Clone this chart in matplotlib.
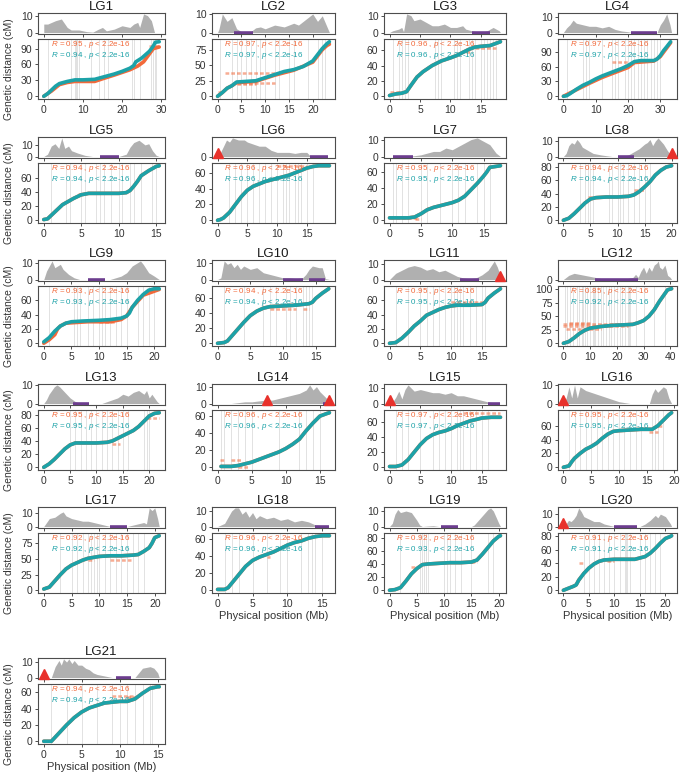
import numpy as np
import matplotlib
matplotlib.use("Agg")
import matplotlib.pyplot as plt
import matplotlib.transforms as mtransforms

plt.rcParams['font.family'] = ['Liberation Sans', 'DejaVu Sans']
plt.rcParams['mathtext.fontset'] = 'custom'
plt.rcParams['mathtext.rm'] = 'Liberation Sans'
plt.rcParams['mathtext.it'] = 'Liberation Sans:italic'

# ---------------- data ----------------
lg_names = ["LG%d" % i for i in range(1, 22)]
lg_lengths = [29.5, 23.5, 18.2, 33.5, 15.4, 18.8, 17.7, 20.0, 20.9, 17.1, 18.0,
              40.5, 21.9, 16.4, 18.0, 19.5, 20.8, 16.0, 20.3, 21.2, 15.2]
x_steps = [10, 5, 5, 10, 5, 5, 5, 5, 5, 5, 5, 10, 5, 5, 5, 5, 5, 5, 5, 5, 5]
y_steps = [30, 25, 20, 30, 20, 20, 20, 20, 20, 20, 20, 25, 20, 20, 20, 20, 25, 20, 20, 20, 20]

r_orange = [0.95, 0.97, 0.96, 0.97, 0.94, 0.96, 0.95, 0.94, 0.93, 0.94, 0.95,
            0.85, 0.95, 0.96, 0.97, 0.95, 0.92, 0.96, 0.92, 0.91, 0.94]
r_teal = [0.94, 0.97, 0.96, 0.97, 0.94, 0.96, 0.95, 0.94, 0.93, 0.94, 0.95,
          0.92, 0.95, 0.96, 0.97, 0.95, 0.92, 0.96, 0.93, 0.91, 0.94]

# genetic vs physical position (teal map)
teal_curves = [
    [(0, 0), (1, 5), (2, 12), (3, 19), (4, 24), (6, 28), (8, 31), (10, 31), (13, 32), (15, 36), (18, 42), (20, 47), (22, 53), (23, 58), (23.5, 65), (25, 72), (27, 85), (28, 95), (28.5, 102), (29.5, 103)],
    [(0, 0), (1, 6), (2, 13), (3, 17), (4, 23), (6, 24), (8, 25), (10, 30), (12, 35), (14, 40), (16, 43), (18, 48), (20, 57), (21, 67), (22, 77), (23, 85), (23.5, 88)],
    [(0, 1), (1, 3), (2, 4), (2.8, 6), (3.5, 14), (4.5, 25), (5.5, 32), (7, 40), (8.5, 46), (10, 50), (11, 53), (12, 57), (13, 61), (14, 64), (15, 65), (16.5, 66), (17.5, 69), (18.2, 71)],
    [(0, 0), (1, 1), (2, 5), (4, 14), (6, 22), (8, 28), (10, 35), (12, 41), (14, 46), (16, 51), (18, 56), (20, 62), (22, 70), (24, 72), (26, 72), (28, 72), (29, 75), (30, 82), (31, 92), (32, 100), (33.2, 110)],
    [(0, 1), (0.5, 2), (1, 7), (1.5, 12), (2, 17), (2.5, 22), (3, 25), (3.5, 28), (4, 31), (5, 36), (6, 38), (8, 38), (10, 38), (11, 39), (11.5, 42), (12, 48), (12.5, 55), (13, 63), (14, 70), (15, 76), (15.4, 77)],
    [(0, 0), (0.5, 1), (1, 3), (2, 10), (3, 20), (4, 30), (5, 38), (6, 43), (7, 46), (8, 49), (9, 51), (10, 53), (11, 55), (12, 57), (13, 60), (14, 63), (15, 66), (16, 68), (17, 69), (18.8, 69)],
    [(0, 3), (1, 3), (2, 3), (3, 3), (4, 4), (5, 8), (6, 13), (7, 16), (8, 18), (9, 20), (10, 22), (11, 25), (12, 30), (13, 38), (14, 46), (15, 55), (15.5, 60), (16, 66), (17.7, 68)],
    [(0, 0), (1, 3), (2, 10), (3, 18), (4, 26), (4.5, 29), (5, 32), (6, 34), (8, 35), (10, 35), (12, 36), (13, 38), (14, 43), (15, 50), (16, 58), (17, 68), (18, 75), (19, 80), (20, 82)],
    [(0, 2), (1, 8), (2, 17), (3, 24), (4, 28), (5, 30), (7, 31), (10, 32), (12, 33), (14, 35), (15, 38), (15.5, 42), (16, 50), (17, 60), (18, 68), (19, 74), (20, 76), (20.9, 76)],
    [(0, 0), (1, 1), (1.5, 3), (2, 8), (3, 18), (4, 28), (5, 37), (6, 43), (7, 47), (8, 49), (10, 50), (12, 51), (13, 52), (14, 53), (14.5, 55), (15, 60), (16, 67), (17, 73)],
    [(0, 0), (1, 1), (2, 7), (3, 15), (4, 24), (5, 31), (6, 39), (7, 43), (8, 47), (9, 50), (10, 52), (11, 53), (13, 53), (15, 54), (15.5, 57), (16, 63), (17, 70), (18, 76)],
    [(0, 0), (2, 3), (4, 10), (6, 18), (8, 24), (10, 28), (14, 31), (18, 33), (22, 34), (26, 35), (28, 38), (30, 42), (32, 50), (34, 62), (36, 78), (38, 92), (39, 99), (40.5, 101)],
    [(0, 0), (1, 5), (2, 12), (3, 20), (4, 28), (5, 34), (6, 37), (8, 37), (10, 37), (12, 38), (13, 40), (14, 44), (15, 48), (16, 52), (17, 56), (18, 62), (19, 70), (20, 78), (21, 82), (21.9, 83)],
    [(0.5, 1), (1, 1), (2, 1), (3, 2), (4, 4), (5, 6), (6, 9), (7, 12), (8, 15), (9, 18), (10, 22), (11, 27), (12, 33), (13, 43), (14, 52), (15, 60), (16, 63), (16.4, 64)],
    [(0, 1), (1, 1), (2, 3), (3, 10), (4, 20), (5, 30), (6, 38), (7, 43), (8, 46), (9, 48), (10, 51), (11, 55), (12, 58), (13, 61), (14, 63), (15, 65), (16.5, 66), (18, 66)],
    [(0, 0), (1, 2), (1.5, 8), (2, 13), (3, 20), (4, 26), (5, 30), (6, 35), (7, 42), (8, 48), (9, 52), (10, 53), (12, 54), (14, 55), (16, 55), (17, 60), (18, 68), (19, 76), (19.5, 79)],
    [(0, 2), (1, 5), (2, 15), (3, 25), (4, 34), (5, 40), (6, 44), (7, 48), (8, 51), (10, 54), (12, 55), (14, 55), (16, 56), (17, 57), (18, 62), (19, 68), (19.5, 75), (20, 84), (20.8, 87)],
    [(0, 1), (1, 1), (1.5, 3), (2, 8), (3, 18), (4, 28), (5, 35), (6, 39), (7, 42), (8, 45), (9, 49), (10, 53), (11, 56), (12, 58), (13, 61), (14, 63), (15, 64), (16, 64)],
    [(0, 0), (1, 1), (2, 4), (3, 14), (4, 25), (5, 33), (6, 39), (7, 40), (9, 41), (11, 42), (13, 42), (15, 43), (16, 46), (17, 55), (18, 65), (19, 75), (20, 82), (20.3, 83)],
    [(0, 0), (1, 3), (2, 6), (2.5, 8), (3, 15), (4, 25), (5, 33), (6, 39), (7, 43), (8, 45), (10, 46), (12, 46), (14, 46), (16, 50), (17, 55), (18, 62), (19, 70), (20, 77), (21, 80), (21.2, 81)],
    [(0, 0), (0.5, 0), (1, 0), (1.3, 3), (2, 10), (3, 20), (4, 29), (5, 36), (6, 41), (7, 44), (8, 47), (9, 48), (10, 49), (11, 49), (12, 52), (13, 59), (14, 65), (15, 67), (15.2, 67)],
]

# orange map where it departs from the teal one (None = lies under teal)
orange_curves = [
    [(0, 0), (2, 10), (4, 22), (6, 26), (8, 28), (13, 28), (15, 33), (18, 40), (20, 45), (22, 50), (24, 57), (25.5, 65), (27, 80), (28, 90), (29.5, 93)],
    [(0, 0), (1, 6), (2, 13), (3, 17), (4, 22), (8, 24), (12, 34), (16, 42), (20, 55), (22, 75), (23, 82), (23.5, 84)],
    None,
    [(0, 0), (4, 13), (8, 26), (12, 38), (16, 48), (20, 58), (22, 68), (28, 71), (30, 80), (33.2, 108)],
    None, None, None, None,
    [(0, 0), (1, 5), (2, 12), (2.5, 20), (3, 24), (4, 28), (8, 30), (12, 30), (14, 33), (15, 38), (16, 50), (18, 67), (20.9, 75)],
    None, None, None, None, None, None, None, None, None, None, None, None,
]

# stray orange markers: (x start, x end, cM)
orange_extras = [
    [(27, 29.5, 95)],
    [(1.5, 12, 37), (4, 12, 22), (4, 8, 19), (0, 1, 7)],
    [(12.5, 13.5, 58), (14, 17.5, 63), (0, 2, 6)],
    [(15, 20, 70)],
    [(4.5, 5.2, 37), (3, 3.6, 27)],
    [(10, 15, 69)],
    [(0, 4.5, 3), (6, 6.3, 15), (4, 5, 1)],
    [(4.5, 5.5, 35), (13, 15, 45)],
    [(10, 13, 29)],
    [(8, 12, 46), (13, 14, 46)],
    [(10, 15, 58)],
    [(0, 25, 35), (0, 24, 32), (1, 14, 27), (2, 10, 38)],
    [(13, 14.5, 36), (19.5, 21.9, 75)],
    [(0.3, 1, 8), (2, 3.5, 8), (3, 4.5, 0)],
    [(12, 18, 72)],
    [(15.5, 17, 51), (17, 18, 60)],
    [(8, 9, 48), (12, 16, 48)],
    [(7, 7.5, 39)],
    [(4, 5, 35), (15, 16, 43)],
    [(3, 4, 40), (8.5, 10, 44)],
    [(9, 12, 56), (11, 12, 54)],
]

# recombination density profiles (Mb, value)
density_profiles = [
    [(0, 5), (1, 5), (3, 7), (4.5, 8), (6, 3), (7, 1.5), (9, 1.5), (11, 0.5), (12.5, 0.2), (14, 2), (15, 3), (16, 1), (18, 2), (20, 4), (22, 3), (23, 5), (24, 6), (24.5, 3), (25.5, 11), (26.5, 10), (27.5, 7), (28.3, 0), (29.5, 0)],
    [(0, 0), (0.3, 2), (1, 10), (2, 6), (3, 8), (4, 2), (5, 0.5), (7, 0.5), (8, 2.5), (9, 3), (10, 2), (12, 4), (14, 3), (16, 5), (17, 4), (19, 8), (20, 10), (21, 6), (22, 9), (23, 3), (23.5, 0)],
    [(0, 0), (0.5, 1), (1.5, 2), (2, 3), (2.3, 0.5), (2.8, 11), (3.5, 10), (4, 7), (5, 8), (6, 6), (7, 4), (8, 4), (9, 5), (10, 3), (11, 3), (12, 4), (12.5, 2), (13.5, 1), (15, 0), (16, 1), (17, 3), (18, 1), (18.2, 0)],
    [(0, 0), (1, 3), (2, 5), (3, 8), (4, 6), (6, 5), (8, 4), (10, 4), (12, 3), (14, 4), (16, 2), (18, 1), (20, 0.5), (21, 0), (29, 0), (30, 5), (31, 8), (32, 12), (33, 5), (33.5, 0)],
    [(0, 0), (0.5, 2), (1, 9), (1.5, 11), (2, 7), (2.4, 16), (2.8, 7), (3.3, 9), (3.7, 5), (4.5, 3), (5.5, 1), (6.5, 0), (10, 0), (11, 2), (11.5, 8), (12, 12), (12.7, 14), (13.5, 10), (14, 11), (14.5, 5), (15, 1), (15.4, 0)],
    [(0, 0), (0.5, 2), (1, 5), (1.5, 8), (2, 7), (2.5, 9), (3.5, 8), (4.5, 8), (5, 7), (6, 6), (7, 5), (8, 5), (9, 3), (10, 2), (11, 2), (12, 2), (13, 1.5), (14, 2), (15, 2), (15.5, 0.5), (16, 0), (18.8, 0)],
    [(0, 0), (1, 0), (3, 0), (4, 0.5), (5, 1), (6, 2), (7, 3), (8, 3), (9, 5), (10, 4), (11, 6), (12, 8), (13, 10), (14, 11), (15, 9), (16, 7), (17, 2), (17.7, 0)],
    [(0, 0), (0.5, 2), (1, 7), (1.5, 9), (2, 8), (2.5, 11), (3, 9), (3.5, 6), (4.5, 4), (5.5, 2), (7, 1), (8, 0.5), (9, 0), (11, 0), (12, 1), (13, 3), (14, 5), (15, 8), (15.5, 9), (16, 11), (16.5, 7), (17, 10), (17.5, 12), (18.5, 8), (19.2, 4), (20, 0)],
    [(0, 0), (0.5, 5), (1, 8), (1.5, 11), (2, 7), (3, 9), (3.5, 6), (4.5, 3), (5.5, 1), (6.5, 0), (12, 0), (13, 1), (14, 2), (15, 4), (16, 8), (17, 10), (17.5, 11), (18, 9), (19, 4), (20, 2), (20.9, 0)],
    [(0, 0), (0.5, 1), (1, 11), (1.5, 9), (2, 10), (2.5, 7), (3, 9), (3.5, 6), (4, 8), (5, 6), (6, 7), (7, 4), (8, 3), (9, 2), (10, 1), (11, 1), (12, 0.5), (13, 1), (13.5, 3), (14, 6), (14.5, 8), (15.5, 7), (16, 7), (16.5, 0.5), (17.1, 0)],
    [(0, 0), (1, 4), (2, 6), (3, 8), (4, 9), (5, 8), (6, 6), (7, 7), (8, 5), (9, 6), (10, 4), (11, 2), (12, 1), (13, 0.5), (14, 1), (15, 3), (16, 6), (17, 12), (17.5, 8), (18, 2)],
    [(0, 0), (2, 2), (4, 3), (6, 2.5), (8, 2), (10, 1.5), (12, 1), (14, 0.5), (16, 0.3), (20, 0.2), (24, 0.5), (26, 1), (27, 2.5), (28, 1), (29, 4), (30, 6), (31, 3), (32, 6), (33, 4), (34, 7), (35, 8), (35.5, 9), (36, 6), (37, 5), (38, 7), (39, 2), (40, 1), (40.5, 0)],
    [(0, 0), (0.5, 2), (1, 5), (2, 9), (2.5, 10), (3, 9), (4, 6), (5, 3), (6, 1), (7, 0), (9, 0), (11, 0), (12, 1), (13, 2), (14, 3), (15, 5), (16, 4), (17, 6), (18, 7), (19, 5), (19.5, 7), (20, 3), (20.5, 5), (21.5, 1), (21.9, 0)],
    [(0, 0), (2, 0), (3, 0.5), (4, 1), (5, 1), (6, 1.5), (7, 2), (8, 2), (9, 3), (10, 4), (11, 5), (12, 6), (12.5, 7), (13, 8), (13.5, 11), (14, 8), (14.5, 10), (15, 7), (15.5, 5), (16, 3), (16.4, 0)],
    [(0, 0), (0.5, 1), (1, 4), (1.5, 8), (2, 3), (2.5, 9), (3, 12), (3.5, 10), (4, 8), (5, 9), (6, 8), (7, 7), (8, 7), (9, 6), (10, 7), (11, 5), (12, 5), (13, 4), (14, 3), (15, 2), (16, 1), (17, 0.5), (18, 0)],
    [(0, 0), (0.5, 3), (1, 9), (1.5, 3), (2, 10), (2.5, 3), (3, 9), (3.5, 8), (4, 7), (5, 6), (6, 5), (7, 4), (8, 3), (9, 2), (10, 1), (11, 0.5), (12, 0), (15.5, 0), (16, 5), (16.5, 8), (17, 6), (18, 9), (18.5, 8), (19, 3), (19.5, 0)],
    [(0, 0), (0.5, 3), (1, 6), (2, 7), (3, 10), (3.5, 11), (4, 8), (5, 6), (6, 5), (7, 4), (8, 4), (9, 3), (10, 2), (11, 1), (12, 0), (15, 0), (16, 1), (17, 2), (18, 3), (18.5, 2), (19, 14), (19.5, 12), (20, 14), (20.5, 6), (20.8, 0)],
    [(0, 0), (0.5, 1), (1, 2), (1.5, 6), (2, 10), (2.5, 12), (3, 12), (3.5, 8), (4, 10), (4.5, 6), (5, 9), (5.5, 5), (6, 7), (7, 5), (8, 6), (9, 4), (10, 5), (11, 3), (12, 4), (13, 3), (14, 1), (15, 0.5), (16, 0)],
    [(0, 0), (0.5, 2), (1, 8), (1.5, 11), (2, 9), (3, 10), (4, 9), (5, 4), (5.5, 1), (6, 0), (7, 0.3), (8, 0.5), (9, 0), (15, 0), (15.5, 1), (16, 3), (17, 7), (18, 11), (18.5, 12), (19, 10), (19.5, 6), (20, 2), (20.3, 0)],
    [(0, 0), (0.5, 2), (1, 5), (1.5, 4), (2, 6), (2.5, 9), (3, 15), (3.5, 12), (4, 8), (5, 6), (6, 4), (7, 4), (8, 2), (9, 1), (10, 0), (15, 0), (16, 2), (17, 5), (18, 9), (18.5, 7), (19, 10), (19.5, 9), (20, 8), (21, 2), (21.2, 0)],
    [(0, 0), (0.5, 0), (1, 0), (1.5, 7), (2, 11), (2.3, 8), (2.6, 12), (3, 10), (3.3, 12), (3.7, 9), (4, 11), (4.5, 8), (5, 8), (5.5, 6), (6, 5), (6.5, 3), (7, 2), (8, 1), (9, 0), (12, 0), (12.5, 3), (13, 6), (14, 7), (14.5, 6), (15, 3), (15.2, 0)],
]

# centromere-like intervals (purple) and red triangles (Mb)
purple_bars = [[], [(3.5, 7.5)], [(13.5, 16.5)], [(21, 29)], [(7.5, 10)], [(15.5, 18.5)],
               [(0.5, 3.8)], [(10, 13)], [(8, 11)], [(10, 13), (14, 16.5)], [(11.5, 14.5)],
               [(12, 28)], [(5.5, 8.5)], [(15.5, 16.5)], [(16, 18)], [], [(12, 15)],
               [(14, 16)], [(9.5, 12.5)], [(10, 14.5)], [(9.5, 11.5)]]
triangles = [[], [], [], [], [], [0], [], [20], [], [], [18], [], [], [7.3, 16.4],
             [0], [0], [], [], [], [0], [0]]

# marker positions shown as grey vertical lines (Mb)
marker_lines = [
    [1, 7, 8, 8.3, 8.6, 9, 12, 14, 15.5, 16.5, 22.5, 23, 24.5, 27.5, 28, 28.3, 28.7],
    [0.5, 3, 4, 5, 6, 7, 8, 9, 10, 12, 13, 15, 16, 19, 21, 22, 22.5],
    [0.5, 1.5, 2, 2.5, 3, 7.5, 8, 8.5, 10.5, 11, 11.5, 13, 13.5, 14, 15, 15.5, 16, 16.5, 17, 17.5],
    [1, 6, 7, 8, 12, 15, 16, 17, 19, 20, 21, 22, 23, 24, 25, 26, 27, 28, 29, 30],
    [1, 3, 3.5, 5, 5.5, 7, 7.5, 8, 9, 10, 10.5, 11.5, 12, 13, 14.5, 15],
    [2, 3, 4, 5, 6, 7, 8, 9, 10, 11, 11.5, 12, 13, 13.5, 14, 15, 16],
    [0.5, 1, 2, 3, 5, 6, 8, 10, 11, 12, 14, 15, 16],
    [3, 4, 4.5, 5, 5.5, 8.5, 9, 10, 10.5, 11, 12, 13, 14, 15, 16],
    [1, 5.5, 6, 6.5, 8, 9, 10, 10.5, 11, 12, 13, 14, 15, 17, 18, 19, 20],
    [1, 4, 7, 8, 9, 10.5, 11, 12, 13, 13.5, 14, 14.5],
    [1, 3, 5, 6, 7, 8, 9, 10, 10.5, 11, 11.5, 12, 13, 14, 15, 15.5],
    [0.5, 1.5, 2.5, 3.5, 5, 6, 7, 7.5, 8, 9, 10, 11, 11.5, 12, 13, 14, 15, 16, 17, 18, 19, 20, 21, 22, 23, 24, 24.5, 25, 27, 30, 34, 38],
    [5, 6, 7, 8, 9, 10, 11, 12, 13, 14, 15, 16, 19, 19.5, 20],
    [0.5, 1, 2, 3, 4, 5, 9, 12, 13, 14, 15],
    [1, 2, 3, 5, 7, 8, 9, 10, 11, 11.5, 12, 13, 14, 15, 16],
    [1, 2, 3, 4, 5, 6, 7, 8, 9, 10, 11, 12, 13, 14, 16, 16.5, 17, 18],
    [3, 5, 6, 7, 8, 8.5, 9, 9.5, 10, 11, 12, 13, 14, 15, 16, 17, 18],
    [1, 2, 3, 5, 7, 9, 10, 12, 13, 13.5, 14, 15],
    [2, 5.5, 6, 6.3, 6.6, 7, 10, 10.5, 11, 12, 13, 15, 18, 19],
    [4, 5, 6, 7, 8, 9, 10, 11, 12, 12.2, 12.5, 13, 15, 16, 17, 18, 19],
    [1, 3, 5, 7, 9, 10, 11, 12, 13, 14, 14.3],
]

xlabel_panels = ["LG18", "LG19", "LG20", "LG21"]

# ---------------- styling ----------------
TEAL = "#1ca2a8"
ORANGE = "#f2693a"
GREY_FILL = "#b0b0b0"
PURPLE = "#6c3d8e"
TRI_RED = "#e8312b"
FRAME = "#4d4d4d"

W, H = 683, 774
fig = plt.figure(figsize=(W / 100, H / 100), dpi=100)

col_left = [38, 212, 384, 558]
col_right = [165, 335, 506, 677]
row_top = [13, 137, 260, 384, 507, 658]
dens_h, gap, main_h = 21, 5, 60


def px_axes(left, top, w, h):
    return fig.add_axes([left / W, 1 - (top + h) / H, w / W, h / H])


def style(ax, fs=7.5):
    for s in ax.spines.values():
        s.set_color(FRAME)
        s.set_linewidth(0.8)
    ax.tick_params(direction="out", length=2.5, width=0.7, color=FRAME,
                   labelsize=fs, labelcolor="#333333", pad=1.5)


for i, name in enumerate(lg_names):
    r, c = divmod(i, 4)
    left = col_left[c]
    w = col_right[c] - col_left[c]
    top = row_top[r]
    L = lg_lengths[i]
    xlim = (-0.05 * L, 1.05 * L)
    xt = np.arange(0, L + 0.6, x_steps[i])

    # --- density panel ---
    axd = px_axes(left, top, w, dens_h)
    dx, dy = zip(*density_profiles[i])
    axd.fill_between(dx, 0, dy, color=GREY_FILL, lw=0)
    dmax = max(dy)
    axd.set_ylim(-0.08 * dmax, 1.05 * dmax)
    axd.set_xlim(*xlim)
    axd.set_yticks([t for t in (0, 10) if t <= 1.05 * dmax])
    axd.set_xticks(xt)
    axd.set_xticklabels([])
    for a, b in purple_bars[i]:
        axd.plot([a, b], [0, 0], color=PURPLE, lw=2.6, solid_capstyle="butt", zorder=3)
    trans = mtransforms.blended_transform_factory(axd.transData, axd.transAxes)
    for t in triangles[i]:
        axd.plot([t], [0.24], marker="^", ms=6.5, color=TRI_RED, transform=trans,
                 clip_on=False, zorder=4, mec=TRI_RED)
    style(axd)
    axd.set_title(name, fontsize=9.5, pad=1.5, color="#1a1a1a")

    # --- main panel ---
    axm = px_axes(left, top + dens_h + gap, w, main_h)
    for x in marker_lines[i]:
        axm.axvline(x, color="#e2e2e2", lw=0.7, zorder=0)
    tx, ty = zip(*teal_curves[i])
    oc = orange_curves[i] if orange_curves[i] is not None else teal_curves[i]
    ox, oy = zip(*oc)
    axm.plot(ox, oy, color=ORANGE, lw=2.6, solid_capstyle="round", zorder=2)
    for a, b, y in orange_extras[i]:
        axm.plot([a, b], [y, y], color=ORANGE, lw=1.8, alpha=0.55, zorder=2,
                 ls=(0, (1.5, 0.8)))
    axm.plot(tx, ty, color=TEAL, lw=2.6, solid_capstyle="round", zorder=3)

    allv = list(ty) + list(oy) + [e[2] for e in orange_extras[i]]
    lo, hi = min(allv + [0]), max(allv)
    rng = hi - lo
    axm.set_ylim(lo - 0.05 * rng, hi + 0.05 * rng)
    axm.set_xlim(*xlim)
    axm.set_xticks(xt)
    axm.set_xticklabels(["%d" % v for v in xt])
    axm.set_yticks(np.arange(0, hi + 1, y_steps[i]))
    style(axm)

    axm.text(0.1, 0.91, r"$\it{R}$ = %.2f , $\it{p}$ < 2.2e-16" % r_orange[i],
             transform=axm.transAxes, color=ORANGE, fontsize=5.8, va="center")
    axm.text(0.1, 0.73, r"$\it{R}$ = %.2f , $\it{p}$ < 2.2e-16" % r_teal[i],
             transform=axm.transAxes, color=TEAL, fontsize=5.8, va="center")

    if c == 0:
        fig.text(9 / W, 1 - (top + dens_h + gap + main_h / 2) / H,
                 "Genetic distance (cM)", rotation=90, fontsize=7.5,
                 color="#333333", ha="center", va="center")
    if name in xlabel_panels:
        fig.text((left + w / 2) / W, 1 - (top + dens_h + gap + main_h + 23) / H,
                 "Physical position (Mb)", fontsize=8, color="#333333",
                 ha="center", va="center")

fig.savefig("out.png", dpi=100)
